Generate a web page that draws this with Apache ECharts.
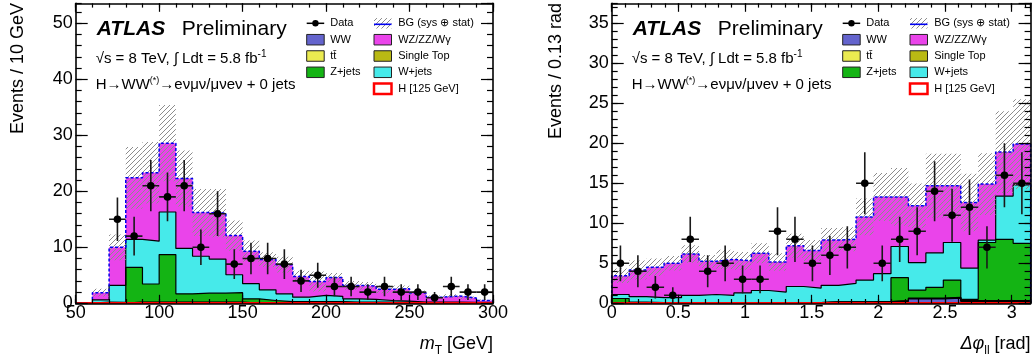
<!DOCTYPE html>
<html>
<head>
<meta charset="utf-8">
<script src="https://cdn.jsdelivr.net/npm/echarts@6.0.0/dist/echarts.min.js"></script>
<style>
html,body{margin:0;padding:0;background:#fff;}
#chart{width:1034px;height:361px;}
</style>
</head>
<body>
<div id="chart"></div>
<script>
// ===== m_T distribution: 25 bins of 10 GeV, 50 -> 300 GeV =====
const mtBinLow = 50;
const mtBinWidth = 10;
const mtHiggs     = [0.05,0.05,0.05,0.05,0.05,0.05,0.05,0.05,0.05,0.05,0.05,0.05,0.05,0.05,0.05,0.05,0.05,0.05,0.05,0.05,0.05,0.05,0.05,0.05,0.05];
const mtWW        = [0,0.02,0.05,0.1,0.1,0.1,0.1,0.1,0.1,0.1,0.05,0.05,0.05,0.05,0.05,0.05,0.05,0.05,0.05,0.05,0.02,0.02,0.02,0.02,0.02];
const mtTtbar     = [0,0,0,0.02,0.02,0.02,0.02,0.02,0.02,0.02,0,0,0,0,0,0,0,0,0,0,0,0,0,0,0];
const mtSingleTop = [0,0,0,0,0,0,0,0,0,0,0,0,0,0,0,0,0,0,0,0,0,0,0,0,0];
const mtZjets     = [0,0.13,0.05,6.23,3.28,8.53,1.53,1.63,1.63,1.73,0.7,0.4,0.2,0.2,0.2,0.2,0.1,0.1,0.1,0.1,0.03,0.03,0.03,0.03,0.03];
const mtWjets     = [0,0.4,3.05,5.0,7.65,7.6,8.1,6.6,6.1,3.2,2.7,1.9,1.4,0.8,1.1,0.95,0.6,0.5,0.3,0.2,0.1,0.1,0.1,0.05,0.05];
const mtDiboson   = [0,1.3,6.8,11.0,12.2,12.3,12.5,7.8,8.2,7.0,5.8,5.4,5.2,3.7,2.5,3.35,2.4,2.4,2.0,2.2,1.65,0.9,1.1,0.8,0.35];
const mtBgErr     = [0,0.7,2.3,5.5,5.5,6.8,5.0,4.2,4.3,2.7,1.9,1.3,1.4,1.0,1.8,0.8,0.8,0.7,0.7,0.6,0.45,0.3,0.3,0.25,0.2];
const mtData      = [null,null,15,12,21,19,21,10,16,7,8,8,7,4,5,3,3,2,3,2,2,1,3,2,2];
const mtXTicks = {min: 50, max: 300, major: 50, minor: 10};
const mtYTicks = {min: 0, max: 53.57, major: 10, minor: 2};

// ===== Delta phi_ll distribution: 24 bins of pi/24 (0.13 rad), 0 -> pi =====
const dphiBinLow = 0;
const dphiBinWidth = Math.PI / 24;
const dphiHiggs     = [0.05,0.05,0.05,0.05,0.05,0.05,0.05,0.05,0.05,0.05,0.05,0.05,0.05,0.05,0.05,0.05,0.05,0.05,0.05,0.05,0.05,0.05,0.05,0.05];
const dphiWW        = [0.05,0.05,0.05,0.05,0.05,0.05,0.05,0.05,0.05,0.05,0.05,0.05,0.1,0.1,0.1,0.15,0.2,0.5,0.5,0.6,0.2,0.2,0.2,0.2];
const dphiTtbar     = [0,0,0,0,0,0,0,0,0,0,0,0,0,0,0,0,0.05,0.05,0.05,0.05,0.05,0.05,0.05,0.05];
const dphiSingleTop = [0,0,0,0,0,0,0,0,0,0,0,0,0,0,0,0,0.05,0.05,0.05,0.05,0.05,0.05,0.05,0.05];
const dphiZjets     = [0.5,0.05,0,0,0,0,0,0,0,0,0,0,0,0,0,0,2.85,1.0,1.35,2.15,0.15,7.25,7.65,7.15];
const dphiWjets     = [0.5,0.68,0.6,0.6,0.9,1.0,0.9,1.2,1.5,1.3,2.0,1.8,2.1,2.35,2.75,3.5,3.9,3.44,4.3,4.7,3.9,0.3,5.4,7.3];
const dphiDiboson   = [2.35,3.33,3.8,4.3,5.16,4.15,4.5,4.0,4.65,3.76,5.1,4.7,5.65,5.5,7.9,9.6,6.2,7.1,8.4,7.1,8.2,7.0,5.5,5.1];
const dphiBgErr     = [0.9,1.2,1.1,0.9,1.1,0.8,1.2,1.1,1.25,1.1,1.5,1.3,1.5,1.5,2.3,3.0,3.6,2.8,4.0,4.0,3.6,3.85,5.1,5.6];
const dphiData      = [5,4,2,1,8,4,5,3,3,9,8,5,6,7,15,5,8,9,14,11,12,7,16,15];
const dphiXTicks = {min: 0, max: Math.PI, major: 0.5, minor: 0.1};
const dphiYTicks = {min: 0, max: 37.5, major: 5, minor: 1};

// ===== texts =====
const mtYTitle = 'Events / 10 GeV';
const dphiYTitle = 'Events / 0.13 rad';
const mtXTitle = '{it|m}{sub|T} [GeV]';
const dphiXTitle = '{it|Δφ}{sub|ll} [rad]';
const atlasLabel = 'ATLAS';
const prelimLabel = 'Preliminary';
const energyLabel = '√s = 8 TeV, ∫ Ldt = 5.8 fb{sup|-1}';
const channelLabel = 'H→WW{sup|(*)}→eνμν/μνeν + 0 jets';
const legendLeft  = ['Data', 'WW', 'tt\u0304', 'Z+jets'];
const legendRight = ['BG (sys ⊕ stat)', 'WZ/ZZ/Wγ', 'Single Top', 'W+jets', 'H [125 GeV]'];

// stack order bottom -> top: H, WW, ttbar, single top, Z+jets, W+jets, WZ/ZZ/Wgamma
const layerColors = ['#ff0000', '#6464cd', '#ebeb50', '#b9b914', '#14b414', '#46eaea', '#ea44ea'];

const FONT = '"Liberation Sans", Arial, Helvetica, sans-serif';

function makeHatch() {
  const s = 5;
  const c = document.createElement('canvas');
  c.width = s; c.height = s;
  const g = c.getContext('2d');
  g.strokeStyle = '#8c8c8c';
  g.lineWidth = 1;
  g.beginPath();
  g.moveTo(0, s); g.lineTo(s, 0);
  g.moveTo(-1, 1); g.lineTo(1, -1);
  g.moveTo(s - 1, s + 1); g.lineTo(s + 1, s - 1);
  g.stroke();
  return c;
}
const HATCH = {image: makeHatch(), repeat: 'repeat'};

const panels = [
  {grid: {left: 75.7, top: 3.3, width: 417.3, height: 300}, binLow: mtBinLow, binWidth: mtBinWidth,
   layers: [mtHiggs, mtWW, mtTtbar, mtSingleTop, mtZjets, mtWjets, mtDiboson],
   err: mtBgErr, data: mtData, xt: mtXTicks, yt: mtYTicks, yTitle: mtYTitle, xTitle: mtXTitle, yTitleX: 18.5},
  {grid: {left: 611.7, top: 3.3, width: 418.9, height: 300}, binLow: dphiBinLow, binWidth: dphiBinWidth,
   layers: [dphiHiggs, dphiWW, dphiTtbar, dphiSingleTop, dphiZjets, dphiWjets, dphiDiboson],
   err: dphiBgErr, data: dphiData, xt: dphiXTicks, yt: dphiYTicks, yTitle: dphiYTitle, xTitle: dphiXTitle, yTitleX: 556}
];

function isMultiple(a, b) { const r = a / b; return Math.abs(r - Math.round(r)) < 1e-9; }

function makeAxes(dim, p, t) {
  const majorLen = dim === 'x' ? 8.5 : 12;
  const minorLen = dim === 'x' ? 4.3 : 6;
  const pos = dim === 'x' ? ['bottom', 'top'] : ['left', 'right'];
  const base = {type: 'value', gridIndex: p, min: t.min, max: t.max, z: 10, splitLine: {show: false}};
  const tick = (len) => ({show: true, inside: true, length: len, lineStyle: {color: '#000', width: 1.2}});
  const axes = [];
  pos.forEach((ps, k) => {
    axes.push(Object.assign({}, base, {
      position: ps, interval: t.major,
      axisLine: {show: true, onZero: false, lineStyle: {color: '#000', width: 1.6}},
      axisTick: tick(majorLen),
      axisLabel: k === 0 ? {show: true, margin: dim === 'x' ? 1 : 3, fontSize: 18, fontFamily: FONT, color: '#000',
                            showMaxLabel: isMultiple(t.max, t.major), showMinLabel: true} : {show: false}
    }));
    axes.push(Object.assign({}, base, {
      position: ps, interval: t.minor,
      axisLine: {show: false, onZero: false},
      axisTick: tick(minorLen),
      axisLabel: {show: false}
    }));
  });
  return axes;
}

function stepData(edges, vals) {
  const n = vals.length;
  const pts = [[edges[0], 0]];
  for (let i = 0; i < n; i++) pts.push([edges[i], vals[i]]);
  pts.push([edges[n], vals[n - 1]]);
  pts.push([edges[n], 0]);
  return pts;
}

const grids = [], xAxes = [], yAxes = [], series = [], graphics = [];

panels.forEach((P, p) => {
  grids.push(Object.assign({containLabel: false}, P.grid));
  xAxes.push(...makeAxes('x', p, P.xt));
  yAxes.push(...makeAxes('y', p, P.yt));
  const xi = 4 * p, yi = 4 * p;
  const n = P.data.length;
  const edges = Array.from({length: n + 1}, (_, i) => P.binLow + i * P.binWidth);
  const cum = [];
  let run = new Array(n).fill(0);
  P.layers.forEach(L => { run = run.map((v, i) => v + L[i]); cum.push(run); });
  const top = cum.length - 1;

  for (let k = top; k >= 1; k--) {
    series.push({
      type: 'line', xAxisIndex: xi, yAxisIndex: yi, step: 'end', symbol: 'none', silent: true, animation: false,
      data: stepData(edges, cum[k]),
      lineStyle: k === top ? {opacity: 0} : {color: '#000', width: 1.2},
      areaStyle: {color: layerColors[k], opacity: 1, origin: 'start'},
      z: 2
    });
  }
  // background uncertainty band (hatched)
  series.push({
    type: 'custom', xAxisIndex: xi, yAxisIndex: yi, silent: true, animation: false, clip: true, z: 3,
    data: cum[top].map((t, i) => [edges[i], edges[i + 1], t, P.err[i]]),
    encode: {x: [0, 1], y: 2},
    renderItem: (params, api) => {
      const lo = api.value(0), hi = api.value(1), t = api.value(2), e = api.value(3);
      if (!(e > 0)) return null;
      const a = api.coord([lo, t + e]), b = api.coord([hi, Math.max(t - e, 0)]);
      return {type: 'rect', shape: {x: a[0], y: a[1], width: b[0] - a[0], height: b[1] - a[1]}, style: {fill: HATCH}};
    }
  });
  // total background outline (blue dashed)
  series.push({
    type: 'line', xAxisIndex: xi, yAxisIndex: yi, step: 'end', symbol: 'none', silent: true, animation: false,
    data: stepData(edges, cum[top]),
    lineStyle: {color: '#0000f0', width: 1.5, type: [3, 2]}, z: 4
  });
  // Higgs signal outline
  series.push({
    type: 'line', xAxisIndex: xi, yAxisIndex: yi, step: 'end', symbol: 'none', silent: true, animation: false,
    data: stepData(edges, cum[0]),
    lineStyle: {color: layerColors[0], width: 2}, z: 4
  });
  // data points with errors
  const pts = [];
  P.data.forEach((v, i) => {
    if (v == null) return;
    pts.push([(edges[i] + edges[i + 1]) / 2, v, edges[i], edges[i + 1], Math.sqrt(v)]);
  });
  series.push({
    type: 'custom', xAxisIndex: xi, yAxisIndex: yi, silent: true, animation: false, clip: true, z: 5,
    data: pts, encode: {x: 0, y: 1},
    renderItem: (params, api) => {
      const xc = api.value(0), v = api.value(1), lo = api.value(2), hi = api.value(3), e = api.value(4);
      const c = api.coord([xc, v]), l = api.coord([lo, v]), r = api.coord([hi, v]);
      const t = api.coord([xc, v + e]), b = api.coord([xc, Math.max(v - e, 0)]);
      const st = {stroke: '#1a1a1a', lineWidth: 1.6};
      return {type: 'group', children: [
        {type: 'line', shape: {x1: l[0], y1: l[1], x2: r[0], y2: r[1]}, style: st},
        {type: 'line', shape: {x1: t[0], y1: t[1], x2: b[0], y2: b[1]}, style: st},
        {type: 'circle', shape: {cx: c[0], cy: c[1], r: 3.8}, style: {fill: '#000'}}
      ]};
    }
  });

  // ---- texts ----
  const x0 = P.grid.left;
  const gx1 = P.grid.left + P.grid.width;
  const txt = (x, y, text, opts) => Object.assign({type: 'text', x, y, z: 100, silent: true,
    style: Object.assign({text, fontFamily: FONT, fontSize: 15, fill: '#000', align: 'left', verticalAlign: 'middle',
                          textAlign: 'left', textVerticalAlign: 'middle'}, opts || {})});
  graphics.push(txt(x0 + 21, 29.4, atlasLabel, {fontSize: 21, fontWeight: 'bold', fontStyle: 'italic'}));
  graphics.push(txt(x0 + 106, 29.4, prelimLabel, {fontSize: 21}));
  graphics.push(txt(x0 + 20, 59, energyLabel, {rich: {sup: {fontSize: 10, fontFamily: FONT, padding: [0, 0, 10, 0]}}}));
  graphics.push(txt(x0 + 20, 85, channelLabel, {rich: {sup: {fontSize: 9, fontFamily: FONT, padding: [0, 0, 9, 0]}}}));
  // axis titles
  const yt = txt(P.yTitleX, 3, P.yTitle, {fontSize: 18, align: 'right', textAlign: 'right'});
  yt.rotation = Math.PI / 2;
  graphics.push(yt);
  graphics.push(txt(gx1, 344, P.xTitle, {fontSize: 18, align: 'right', textAlign: 'right',
    rich: {it: {fontSize: 18, fontStyle: 'italic', fontFamily: FONT},
           sub: {fontSize: 12, fontFamily: FONT, padding: [13, 0, 0, 0]}}}));

  // ---- legend ----
  const rows = [23.3, 39.7, 56, 72.3, 88.7];
  const c1 = x0 + 231, c2 = x0 + 298.3, bw = 17.5, bh = 10.5;
  const box = (x, y, fill, stroke, lw) => ({type: 'rect', z: 100, silent: true,
    shape: {x, y: y - bh / 2, width: bw, height: bh}, style: {fill, stroke, lineWidth: lw}});
  const lt = (x, y, text) => txt(x, y, text, {fontSize: 11});
  // Data
  graphics.push({type: 'line', z: 100, silent: true, shape: {x1: c1, y1: rows[0], x2: c1 + bw, y2: rows[0]}, style: {stroke: '#000', lineWidth: 1.5}});
  graphics.push({type: 'circle', z: 101, silent: true, shape: {cx: c1 + bw / 2, cy: rows[0], r: 3.2}, style: {fill: '#000'}});
  graphics.push(lt(c1 + 23.5, rows[0], legendLeft[0]));
  graphics.push(box(c1, rows[1], layerColors[1], '#222', 1));
  graphics.push(lt(c1 + 23.5, rows[1], legendLeft[1]));
  graphics.push(box(c1, rows[2], layerColors[2], '#222', 1));
  graphics.push(lt(c1 + 23.5, rows[2], legendLeft[2]));
  graphics.push(box(c1, rows[3], layerColors[4], '#222', 1));
  graphics.push(lt(c1 + 23.5, rows[3], legendLeft[3]));
  // BG band
  graphics.push({type: 'rect', z: 100, silent: true, shape: {x: c2, y: rows[0] - bh / 2, width: bw, height: bh}, style: {fill: HATCH}});
  graphics.push({type: 'line', z: 101, silent: true, shape: {x1: c2, y1: rows[0] + 1, x2: c2 + bw, y2: rows[0] + 1}, style: {stroke: '#0000f0', lineWidth: 1.6}});
  graphics.push(lt(c2 + 24.2, rows[0], legendRight[0]));
  graphics.push(box(c2, rows[1], layerColors[6], '#222', 1));
  graphics.push(lt(c2 + 24.2, rows[1], legendRight[1]));
  graphics.push(box(c2, rows[2], layerColors[3], '#222', 1));
  graphics.push(lt(c2 + 24.2, rows[2], legendRight[2]));
  graphics.push(box(c2, rows[3], layerColors[5], '#222', 1));
  graphics.push(lt(c2 + 24.2, rows[3], legendRight[3]));
  graphics.push(box(c2, rows[4], '#ffffff', layerColors[0], 2.5));
  graphics.push(lt(c2 + 24.2, rows[4], legendRight[4]));
});

const chart = echarts.init(document.getElementById('chart'), null, {renderer: 'canvas', width: 1034, height: 361});
chart.setOption({
  animation: false,
  backgroundColor: '#ffffff',
  grid: grids,
  xAxis: xAxes,
  yAxis: yAxes,
  series: series,
  graphic: {elements: graphics}
});
</script>
</body>
</html>
